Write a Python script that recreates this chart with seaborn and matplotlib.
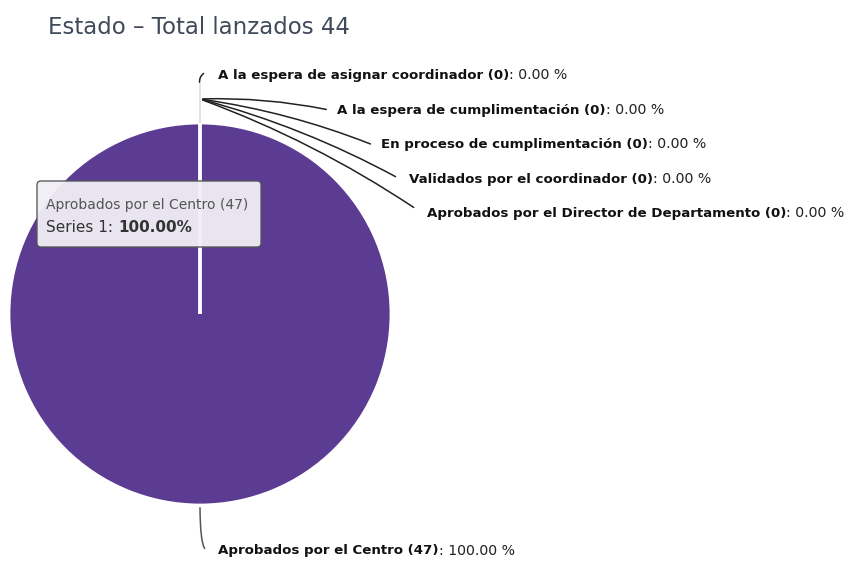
"""Pie de estados (Highcharts-like) recreated with seaborn/matplotlib."""
import matplotlib
matplotlib.use("Agg")
import matplotlib.pyplot as plt
import seaborn as sns
from matplotlib.patches import FancyBboxPatch

# --- data ---------------------------------------------------------------
titulo = "Estado – Total lanzados 44"
estados = [
    "A la espera de asignar coordinador",
    "A la espera de cumplimentación",
    "En proceso de cumplimentación",
    "Validados por el coordinador",
    "Aprobados por el Director de Departamento",
    "Aprobados por el Centro",
]
conteos = [0, 0, 0, 0, 0, 47]
serie = "Series 1"

# --- layout (pixel coordinates, y grows downwards) ---------------------
W, H = 854, 562
centro = (200, 314)
radio = 191
label_pos = [(218, 75), (337, 110), (381, 144), (409, 179), (427, 213), (218, 551)]
conn_end = [None, (329, 110), (373, 145), (398, 178), (416, 209), None]
hub = (200, 99)

sns.set_theme(style="white")
plt.rcParams["font.family"] = ["DejaVu Sans"]

fig = plt.figure(figsize=(W / 100, H / 100), dpi=100)
ax = fig.add_axes([0, 0, 1, 1])

colores = sns.color_palette("deep", len(estados) - 1) + ["#5c3b92"]
wedges, _ = ax.pie(
    conteos,
    colors=colores,
    center=centro,
    radius=radio,
    startangle=270,
    wedgeprops=dict(edgecolor="white", linewidth=2.0),
)
# zero-size slices drawn on top so their white border shows as a radius
for w in wedges[:-1]:
    w.set_zorder(3)
ax.set_xlim(0, W)
ax.set_ylim(H, 0)
ax.set_aspect("equal")
ax.axis("off")

total = sum(conteos)
renderer = fig.canvas.get_renderer()


def rich_text(x, y, parts, zorder=4):
    for txt, weight, color, size in parts:
        t = ax.text(x, y, txt, fontsize=size, fontweight=weight, color=color,
                    va="center", ha="left", zorder=zorder)
        bb = t.get_window_extent(renderer)
        x = ax.transData.inverted().transform((bb.x1, bb.y0))[0]


# connectors
ax.plot([centro[0], centro[0]], [centro[1] - radio, 84], color="#e2e2e2", lw=1.3, zorder=1)
ax.annotate("", xy=(206, 72), xytext=(200, 85),
            arrowprops=dict(arrowstyle="-", color="#222222", lw=1.1,
                            connectionstyle="arc3,rad=-0.4"))
for end in conn_end:
    if end is None:
        continue
    ax.annotate("", xy=end, xytext=hub,
                arrowprops=dict(arrowstyle="-", color="#222222", lw=1.1,
                                connectionstyle="arc3,rad=-0.06"))
ax.annotate("", xy=(207, 550), xytext=(centro[0], centro[1] + radio),
            arrowprops=dict(arrowstyle="-", color="#555555", lw=1.1,
                            connectionstyle="angle3,angleA=90,angleB=0"))

for nombre, n, (x, y) in zip(estados, conteos, label_pos):
    pct = 100 * n / total
    rich_text(x, y, [(f"{nombre} ({n})", "bold", "#111111", 9.6),
                     (f": {pct:.2f} %", "normal", "#222222", 10.2)])

ax.text(48, 27, titulo, fontsize=16.5, color="#414a5a", va="center", ha="left")

# tooltip
ax.add_patch(FancyBboxPatch((37, 181), 224, 66, boxstyle="round,pad=0,rounding_size=4",
                            facecolor="#f1eef6", edgecolor="#555555", lw=1.0,
                            alpha=0.95, zorder=5))
ax.text(46, 205, f"{estados[-1]} ({conteos[-1]})", fontsize=10, color="#555555",
        va="center", ha="left", zorder=6)
pct_ok = 100 * conteos[-1] / total
rich_text(46, 227, [(f"{serie}: ", "normal", "#333333", 11),
                    (f"{pct_ok:.2f}%", "bold", "#333333", 11)], zorder=6)

fig.savefig("out.png", dpi=100)
